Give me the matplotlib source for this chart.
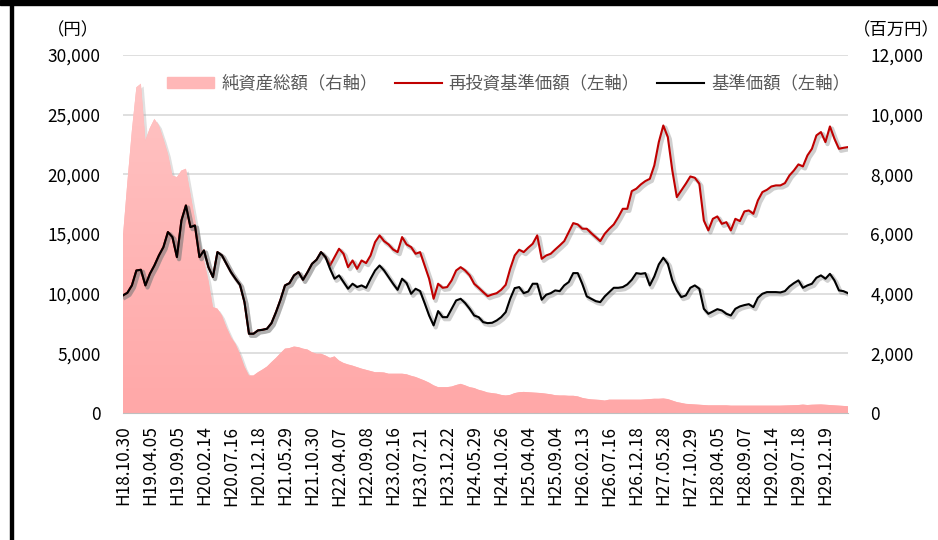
import numpy as np
import matplotlib
matplotlib.use('Agg')
import matplotlib.pyplot as plt
import matplotlib.patheffects as pe
from matplotlib.patches import Patch, Rectangle
from matplotlib.lines import Line2D
from matplotlib.colors import LinearSegmentedColormap

plt.rcParams['font.family'] = ['Noto Sans CJK JP', 'DejaVu Sans']

# x-axis labels (one every 6 samples)
dates = ['H18.10.30', 'H19.04.05', 'H19.09.05', 'H20.02.14', 'H20.07.16', 'H20.12.18',
         'H21.05.29', 'H21.10.30', 'H22.04.07', 'H22.09.08', 'H23.02.16', 'H23.07.21',
         'H23.12.22', 'H24.05.29', 'H24.10.26', 'H25.04.04', 'H25.09.04', 'H26.02.13',
         'H26.07.16', 'H26.12.18', 'H27.05.28', 'H27.10.29', 'H28.04.05', 'H28.09.07',
         'H29.02.14', 'H29.07.18', 'H29.12.19']

# 基準価額 (円)
nav = [9860, 10080, 10700, 11950, 12010, 10700, 11670, 12370, 13210, 13910,
       15170, 14750, 13070, 16140, 17400, 15590, 15720, 13070, 13630, 12230,
       11400, 13490, 13210, 12510, 11810, 11260, 10750, 9300, 6650, 6650,
       6930, 6980, 7070, 7540, 8460, 9500, 10700, 10890, 11540, 11810,
       11170, 11810, 12510, 12850, 13490, 13070, 12090, 11260, 11540, 10980,
       10420, 10840, 10560, 10700, 10500, 11260, 11950, 12370, 11950, 11400,
       10840, 10330, 11260, 10890, 10000, 10420, 10220, 9220, 8180, 7350,
       8550, 8040, 8040, 8740, 9440, 9580, 9220, 8740, 8180, 8040,
       7620, 7540, 7570, 7760, 8040, 8460, 9580, 10470, 10560, 10050,
       10190, 10840, 10840, 9500, 9920, 10050, 10280, 10220, 10700, 10980,
       11730, 11730, 10840, 9780, 9580, 9380, 9300, 9780, 10140, 10500,
       10500, 10560, 10780, 11170, 11730, 11670, 11730, 10700, 11450, 12460,
       13020, 12510, 11120, 10280, 9720, 9860, 10500, 10700, 10420, 8740,
       8320, 8520, 8710, 8600, 8320, 8180, 8740, 8940, 9050, 9130,
       8880, 9660, 10000, 10140, 10140, 10140, 10110, 10220, 10610, 10890,
       11120, 10500, 10700, 10840, 11340, 11540, 11260, 11670, 11120, 10280,
       10220, 10050]

# 再投資基準価額 (円)
reinv = [9860, 10080, 10700, 11950, 12010, 10700, 11670, 12370, 13210, 13910,
         15170, 14750, 13070, 16140, 17400, 15590, 15720, 13070, 13630, 12230,
         11400, 13490, 13210, 12510, 11810, 11260, 10750, 9300, 6650, 6650,
         6930, 6980, 7070, 7540, 8460, 9500, 10700, 10890, 11540, 11810,
         11170, 11810, 12510, 12850, 13490, 13070, 12370, 13070, 13770, 13350,
         12230, 12790, 12090, 12790, 12570, 13210, 14330, 14890, 14410, 14130,
         13710, 13490, 14750, 14130, 13910, 13350, 13490, 12370, 11260, 9580,
         10840, 10500, 10560, 11120, 11950, 12230, 11950, 11540, 10840, 10500,
         10140, 9800, 9940, 10050, 10330, 10750, 12090, 13210, 13690, 13490,
         13860, 14190, 14890, 12930, 13210, 13350, 13710, 14050, 14410, 15170,
         15920, 15810, 15450, 15450, 15080, 14750, 14410, 15030, 15450, 15810,
         16420, 17120, 17120, 18600, 18800, 19160, 19440, 19630, 20750, 22710,
         24100, 23130, 20330, 18100, 18660, 19220, 19830, 19720, 19220, 16140,
         15310, 16280, 16480, 15860, 16000, 15310, 16280, 16090, 16900, 16980,
         16700, 17820, 18520, 18710, 18990, 19080, 19080, 19270, 19910, 20330,
         20840, 20670, 21590, 22150, 23270, 23550, 22710, 24020, 22990, 22150,
         22230, 22290]

# 純資産総額 (百万円)
assets = [5900, 7740, 9470, 10920, 11040, 9140, 9560, 9860, 9640, 9190,
          8690, 7960, 7910, 8130, 8190, 7350, 6510, 5730, 5120, 4450,
          3550, 3500, 3270, 2880, 2550, 2320, 1980, 1560, 1260, 1260,
          1370, 1460, 1560, 1710, 1850, 2010, 2160, 2180, 2230, 2210,
          2160, 2130, 2040, 1990, 1990, 1930, 1850, 1900, 1760, 1680,
          1630, 1590, 1540, 1490, 1450, 1410, 1370, 1370, 1360, 1320,
          1320, 1320, 1320, 1300, 1250, 1210, 1150, 1090, 1020, 930,
          870, 870, 870, 890, 940, 980, 930, 870, 840, 780,
          740, 690, 670, 650, 610, 590, 610, 670, 700, 710,
          700, 690, 680, 670, 650, 630, 600, 590, 590, 580,
          580, 560, 510, 480, 460, 450, 440, 420, 450, 450,
          450, 450, 450, 450, 450, 450, 460, 470, 480, 480,
          490, 470, 420, 370, 340, 310, 300, 290, 280, 270,
          260, 260, 260, 260, 260, 250, 250, 250, 250, 250,
          250, 250, 250, 250, 250, 250, 250, 255, 260, 265,
          270, 285, 270, 280, 285, 290, 280, 270, 260, 250,
          240, 230]

x = np.arange(len(nav))

fig = plt.figure(figsize=(9.38, 5.4), dpi=100)
ax2 = fig.add_axes([0.131, 0.235, 0.773, 0.663])
ax = ax2.twinx()
ax.set_zorder(ax2.get_zorder() + 1)
ax.patch.set_visible(False)

# net assets area (right axis), soft shadow + vertical gradient
shadow_fx = [pe.SimplePatchShadow(offset=(2, -2), shadow_rgbFace='#999999', alpha=0.3), pe.Normal()]
poly = ax2.fill_between(x, assets, 0, color='#ffb7b7', lw=0)
poly.set_path_effects(shadow_fx)
pink = LinearSegmentedColormap.from_list('pink', ['#ffa8a8', '#ffc6c6'])
grad = ax2.imshow(np.linspace(0, 1, 256).reshape(-1, 1), cmap=pink, origin='lower',
                  aspect='auto', extent=[0, len(nav) - 1, 0, 12000], zorder=poly.get_zorder() + 0.1)
grad.set_clip_path(poly.get_paths()[0], transform=ax2.transData)
ax2.set_ylim(0, 12000)
ax2.set_yticks(np.arange(0, 12001, 2000))
ax2.set_xlim(0, len(nav) - 1)
ax2.grid(axis='y', color='#d9d9d9', lw=1.2)
ax2.set_axisbelow(True)
ax2.yaxis.tick_right()

line_fx = [pe.SimpleLineShadow(offset=(1.5, -1.5), shadow_color='#777777', alpha=0.35, linewidth=3), pe.Normal()]
ax.plot(x, reinv, color='#c00000', lw=1.5, path_effects=line_fx)
ax.plot(x, nav, color='black', lw=1.5, path_effects=line_fx)
ax.set_ylim(0, 30000)
ax.set_yticks(np.arange(0, 30001, 5000))
ax.yaxis.tick_left()

fmt = matplotlib.ticker.FuncFormatter(lambda v, p: f'{int(v):,}')
ax.yaxis.set_major_formatter(fmt)
ax2.yaxis.set_major_formatter(fmt)

ax2.set_xticks(x[::6])
ax2.set_xticklabels(dates, rotation=90, fontsize=12.5)

for a in (ax, ax2):
    for s in a.spines.values():
        s.set_visible(False)
    a.tick_params(length=0, labelsize=12.5)
ax2.spines['bottom'].set_visible(True)
ax2.spines['bottom'].set_color('#bfbfbf')
ax.tick_params(axis='y', pad=16)
ax2.tick_params(axis='y', pad=16)
ax2.tick_params(axis='x', pad=9)

handles = [Patch(color='#ffb7b7'),
           Line2D([], [], color='#c00000', lw=1.5),
           Line2D([], [], color='black', lw=1.5)]
labels = ['純資産総額（右軸）', '再投資基準価額（左軸）', '基準価額（左軸）']
leg = ax.legend(handles, labels, loc='center', bbox_to_anchor=(0.532, 0.92), ncol=3,
                frameon=False, fontsize=12.5, handlelength=2.7, handletextpad=0.4,
                columnspacing=1.0, handleheight=0.6)
for t in leg.get_texts():
    t.set_color('#595959')

fig.text(73 / 938, 1 - 30 / 540, '（円）', ha='center', va='center', fontsize=12.5)
fig.text(896 / 938, 1 - 30 / 540, '（百万円）', ha='center', va='center', fontsize=12.5)

# frame pieces of the original image
fig.add_artist(Rectangle((0, 1 - 5 / 540), 1, 5 / 540, transform=fig.transFigure, color='black'))
fig.add_artist(Rectangle((10 / 938, 0), 2.5 / 938, 1, transform=fig.transFigure, color='black'))

fig.savefig('out.png', dpi=100)
